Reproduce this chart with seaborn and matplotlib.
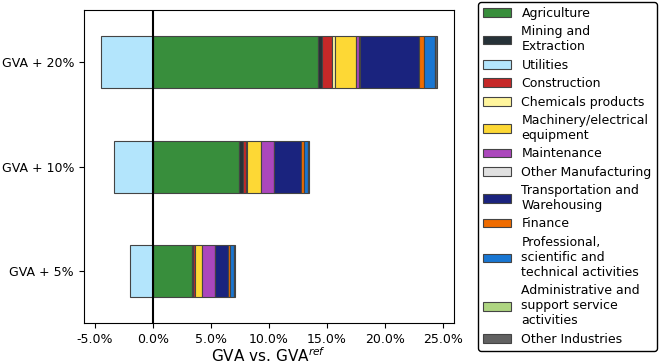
import numpy as np
import matplotlib
matplotlib.use("Agg")
import matplotlib.pyplot as plt
import matplotlib.patches as mpatches
from matplotlib.ticker import FuncFormatter
import seaborn as sns

# scenarios, top to bottom
scenarios = ["GVA + 20%", "GVA + 10%", "GVA + 5%"]

# sector contributions in % (same order as scenarios)
sectors = ["Agriculture", "Mining and\nExtraction", "Utilities", "Construction",
           "Chemicals products", "Machinery/electrical\nequipment", "Maintenance",
           "Other Manufacturing", "Transportation and\nWarehousing", "Finance",
           "Professional,\nscientific and\ntechnical activities",
           "Administrative and\nsupport service\nactivities", "Other Industries"]
agriculture = [14.25, 7.40, 3.37]
mining = [0.35, 0.35, 0.10]
utilities = [-4.52, -3.37, -1.99]
construction = [0.81, 0.29, 0.13]
chemicals = [0.29, 0.10, 0.03]
machinery = [1.78, 1.15, 0.63]
maintenance = [0.29, 1.10, 1.10]
other_manuf = [0.03, 0.03, 0.02]
transport = [5.12, 2.36, 1.10]
finance = [0.46, 0.23, 0.12]
professional = [0.92, 0.35, 0.40]
admin = [0.02, 0.02, 0.01]
other_ind = [0.18, 0.06, 0.05]

colors = ["#388E3C", "#263238", "#B3E5FC", "#C62828", "#FFF59D", "#FDD835",
          "#AB47BC", "#E0E0E0", "#1A237E", "#EF6C00", "#1976D2", "#AED581",
          "#616161"]

series = [agriculture, mining, utilities, construction, chemicals, machinery,
          maintenance, other_manuf, transport, finance, professional, admin,
          other_ind]

plt.rcParams["font.family"] = ["DejaVu Sans"]
plt.rcParams["font.size"] = 9

fig = plt.figure(figsize=(6.6, 3.64), dpi=100)
ax = fig.add_axes([0.127, 0.112, 0.561, 0.860])

pos = np.zeros(len(scenarios))
neg = np.zeros(len(scenarios))
handles = []
for name, vals, col in zip(sectors, series, colors):
    vals = np.array(vals, dtype=float)
    left = np.where(vals >= 0, pos, neg)
    sns.barplot(x=vals, y=scenarios, order=scenarios, orient="h", left=left,
                width=0.5, color=col, saturation=1, errorbar=None,
                edgecolor="#444444", linewidth=0.8, ax=ax)
    pos = pos + np.where(vals >= 0, vals, 0)
    neg = neg + np.where(vals < 0, vals, 0)
    handles.append(mpatches.Patch(facecolor=col, edgecolor="#444444",
                                  linewidth=0.8, label=name))

ax.axvline(0, color="black", linewidth=1.5, zorder=5)
ax.set_ylim(2.5, -0.5)
ax.xaxis.set_major_formatter(FuncFormatter(lambda v, p: f"{v:.1f}%"))
ax.set_xlabel("GVA vs. GVA$^{ref}$", fontsize=11, labelpad=0.5)
ax.set_ylabel("")

fig.legend(handles=handles, loc="upper left", bbox_to_anchor=(0.7247, 0.9945),
           borderaxespad=0, fontsize=9, labelspacing=0.43, handlelength=2.2,
           handletextpad=0.85, frameon=True, edgecolor="black", fancybox=True,
           framealpha=1)

fig.savefig("out.png", dpi=100)
